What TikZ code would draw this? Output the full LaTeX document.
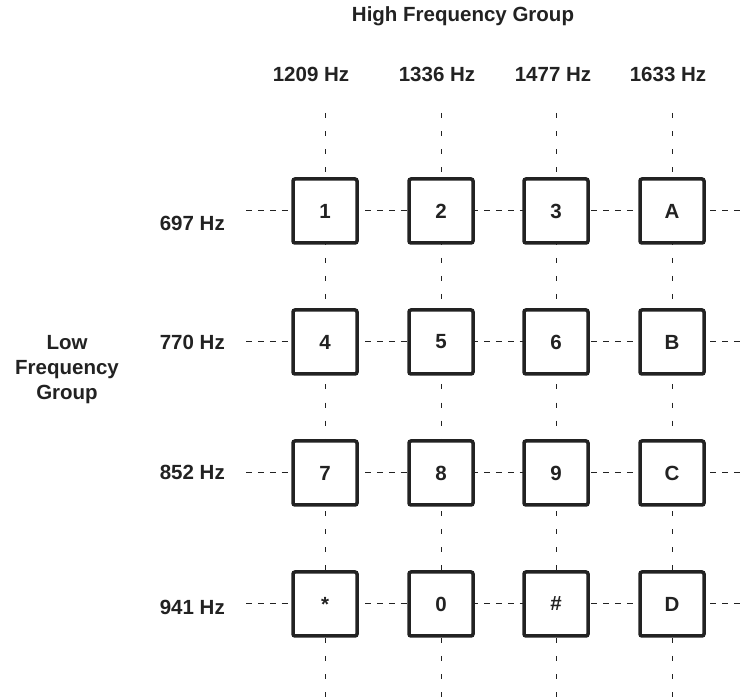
\documentclass[tikz,border=0pt]{standalone}
\usepackage{fontspec}
\setmainfont{Liberation Sans}
\usetikzlibrary{backgrounds}
\definecolor{ink}{HTML}{222222}
\newcommand{\padfont}{\fontsize{20.5}{25}\selectfont\bfseries}
\tikzset{
  keybox/.style={rectangle,rounded corners=2pt,draw=ink,fill=white,line width=3.5pt,
    minimum size=64pt,inner sep=0pt,font=\padfont,text=ink},
  toneh/.style={draw=ink,line width=1pt,dash pattern=on 6pt off 5.9pt},
  tonev/.style={draw=ink,line width=1pt,dash pattern=on 5pt off 13.1pt},
  lbl/.style={font=\padfont,text=ink,inner sep=0pt},
}

\begin{document}
\begin{tikzpicture}[x=1pt,y=-1pt]
  \useasboundingbox (0,0) rectangle (748,700);
  % group titles
  \node[lbl,anchor=base] (high) at (463,22) {High Frequency Group};
  \node[lbl,align=center] (low) at (67,370) {Low\\Frequency\\Group};
  % column tones
  \foreach \lx/\t [count=\c] in {311/1209,437/1336,553/1477,668/1633}
    \node[lbl,anchor=base] (h\c) at (\lx,82) {\t\ Hz};
  % row tones
  \foreach \by/\t [count=\r] in {231/697,350/770,480/852,615/941}
    \node[lbl,anchor=base east] (f\r) at (225,\by) {\t\ Hz};
  % line ends
  \foreach \cx [count=\c] in {325,441,556,672} {
    \coordinate (top\c) at (\cx,113);
    \coordinate (bot\c) at (\cx,700);
  }
  \foreach \ry [count=\r] in {211,342,473,604} {
    \coordinate (lft\r) at (246,\ry);
    \coordinate (rgt\r) at (740,\ry);
  }
  % keys
  \foreach \cx/\t [count=\c] in {325/1,441/2,556/3,672/A}
    \node[keybox] (k1\c) at (\cx,211) {\t};
  \foreach \cx/\t [count=\c] in {325/4,441/5,556/6,672/B}
    \node[keybox] (k2\c) at (\cx,342) {\t};
  \foreach \cx/\t [count=\c] in {325/7,441/8,556/9,672/C}
    \node[keybox] (k3\c) at (\cx,473) {\t};
  \foreach \cx/\t [count=\c] in {325/*,441/0,556/\#,672/D}
    \node[keybox] (k4\c) at (\cx,604) {\t};
  % tone lines behind the keys
  \begin{scope}[on background layer]
    \foreach \c in {1,...,4} \draw[tonev] (top\c) -- (bot\c);
    \foreach \r in {1,...,4} \draw[toneh] (lft\r) -- (rgt\r);
  \end{scope}
\end{tikzpicture}
\end{document}
